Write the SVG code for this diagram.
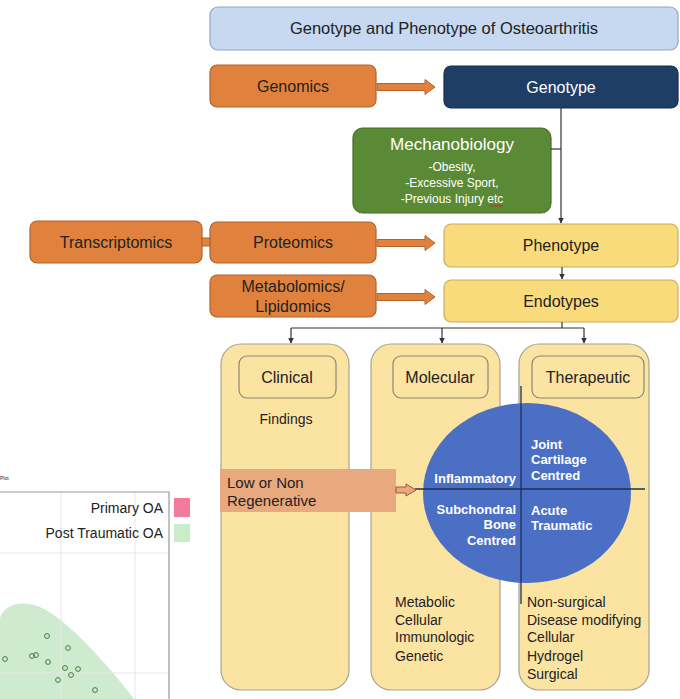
<svg xmlns="http://www.w3.org/2000/svg" width="680" height="699" viewBox="0 0 680 699">
  <defs>
    <style>
      text { font-family: "Liberation Sans", Arial, sans-serif; fill: #222; }
      .c { text-anchor: middle; }
      .r { text-anchor: end; }
      .box-title { fill: #c6d9f0; stroke: #8ea6c4; stroke-width: 1.2; }
      .box-omics { fill: #e0823e; stroke: #b2622a; stroke-width: 1.2; }
      .box-geno { fill: #1f3e66; stroke: #172f4e; stroke-width: 1.2; }
      .box-mech { fill: #5b8a36; stroke: #466d28; stroke-width: 1.2; }
      .box-pheno { fill: #f9db7b; stroke: #c8ae5c; stroke-width: 1.2; }
      .col { fill: #fbe3a2; stroke: #a8a294; stroke-width: 1.2; }
      .inner { fill: #fbe3a2; stroke: #8d8677; stroke-width: 1.2; }
      .line { fill: none; stroke: #333; stroke-width: 1.2; }
      .t16 { font-size: 16px; }
      .t14 { font-size: 14px; }
      .white { fill: #fff; }
      .bold { font-weight: bold; font-size: 13px; fill: #fff; }
      .dot { fill: none; stroke: #3f7d3f; stroke-width: 1; }
      .grid { stroke: #e6e6e6; stroke-width: 1; }
    </style>
    <marker id="tip" viewBox="0 0 6 6" refX="5.5" refY="3" markerWidth="5" markerHeight="5" orient="auto">
      <path d="M0,0 L6,3 L0,6 Z" fill="#333"/>
    </marker>
    <!-- block arrow, drawn from its left end at (0,0) -->
    <path id="block" d="M0,-3.5 H48 V-7.5 L58,0 L48,7.5 V3.5 H0 Z" fill="#e0823e" stroke="#b2622a" stroke-width="1"/>
  </defs>

  <!-- scatter plot panel at lower left -->
  <g id="plot">
    <text x="0" y="480" font-size="5">Plot</text>
    <path d="M0,618 C4,604 24,598 46,610 C70,624 104,660 134,699 L0,699 Z" fill="#cfebcf"/>
    <line class="grid" x1="61" y1="492" x2="61" y2="699"/>
    <line class="grid" x1="135" y1="492" x2="135" y2="699"/>
    <line class="grid" x1="0" y1="553" x2="169" y2="553"/>
    <line class="grid" x1="0" y1="673" x2="169" y2="673"/>
    <path d="M0,492 H169 V699" fill="none" stroke="#9a9a9a" stroke-width="1.2"/>
    <text class="r" x="163" y="513" font-size="14" fill="#333">Primary OA</text>
    <text class="r" x="163" y="538" font-size="14" fill="#333">Post Traumatic OA</text>
    <rect x="174" y="498" width="16" height="19" fill="#f27b9b"/>
    <rect x="174" y="524" width="16" height="18" fill="#c9ecc9"/>
    <circle class="dot" cx="47" cy="636" r="2.4"/>
    <circle class="dot" cx="68" cy="648" r="2.4"/>
    <circle class="dot" cx="32" cy="656" r="2.4"/>
    <circle class="dot" cx="36" cy="655" r="2.4"/>
    <circle class="dot" cx="48" cy="662" r="2.4"/>
    <circle class="dot" cx="5" cy="659" r="2.4"/>
    <circle class="dot" cx="65" cy="668" r="2.4"/>
    <circle class="dot" cx="71" cy="675" r="2.4"/>
    <circle class="dot" cx="78" cy="669" r="2.4"/>
    <circle class="dot" cx="58" cy="680" r="2.4"/>
    <circle class="dot" cx="95" cy="690" r="2.4"/>
  </g>

  <g id="title">
    <rect class="box-title" x="210" y="7" width="468" height="43" rx="8"/>
    <text class="c" x="444" y="34" font-size="16.5">Genotype and Phenotype of Osteoarthritis</text>
  </g>

  <g id="genomics">
    <rect class="box-omics" x="210" y="65" width="166" height="42" rx="7"/>
    <text class="c t16" x="293" y="92">Genomics</text>
  </g>

  <g id="genotype">
    <rect class="box-geno" x="444" y="66" width="234" height="42" rx="7"/>
    <text class="c t16 white" x="561" y="93">Genotype</text>
  </g>

  <g id="mechanobiology">
    <rect class="box-mech" x="353" y="128" width="198" height="85" rx="10"/>
    <text class="c white" x="452" y="150" font-size="17">Mechanobiology</text>
    <text class="c white" x="452" y="171" font-size="12">-Obesity,</text>
    <text class="c white" x="452" y="187" font-size="12">-Excessive Sport,</text>
    <text class="c white" x="452" y="203" font-size="12">-Previous Injury etc</text>
    <path d="M489,206 q1,-1.5 2,0 t2,0 t2,0 t2,0 t2,0 t2,0 t2,0" fill="none" stroke="#d02020" stroke-width="0.9"/>
  </g>

  <g id="transcriptomics">
    <rect class="box-omics" x="30" y="221" width="172" height="42" rx="7"/>
    <text class="c t16" x="116" y="248">Transcriptomics</text>
  </g>

  <g id="proteomics">
    <rect class="box-omics" x="210" y="222" width="166" height="41" rx="7"/>
    <text class="c t16" x="293" y="248">Proteomics</text>
  </g>

  <g id="phenotype">
    <rect class="box-pheno" x="444" y="224" width="234" height="43" rx="7"/>
    <text class="c t16" x="561" y="251">Phenotype</text>
  </g>

  <g id="metabolomics">
    <rect class="box-omics" x="210" y="275" width="166" height="42" rx="7"/>
    <text class="c t16" x="293" y="292">Metabolomics/</text>
    <text class="c t16" x="293" y="312">Lipidomics</text>
  </g>

  <g id="endotypes">
    <rect class="box-pheno" x="444" y="280" width="234" height="42" rx="7"/>
    <text class="c t16" x="561" y="307">Endotypes</text>
  </g>

  <g id="clinical">
    <rect class="col" x="221" y="344" width="128" height="346" rx="20"/>
    <rect class="inner" x="239" y="356" width="97" height="42" rx="8"/>
    <text class="c t16" x="287" y="383">Clinical</text>
    <text class="c t14" x="286" y="424">Findings</text>
  </g>

  <g id="molecular">
    <rect class="col" x="371" y="344" width="129" height="346" rx="20"/>
    <rect class="inner" x="393" y="356" width="95" height="42" rx="8"/>
    <text class="c t16" x="440" y="383">Molecular</text>
    <text class="t14" x="395" y="607">Metabolic</text>
    <text class="t14" x="395" y="625">Cellular</text>
    <text class="t14" x="395" y="642">Immunologic</text>
    <text class="t14" x="395" y="661">Genetic</text>
  </g>

  <g id="therapeutic">
    <rect class="col" x="519" y="344" width="130" height="346" rx="20"/>
    <rect class="inner" x="532" y="356" width="112" height="42" rx="8"/>
    <text class="c t16" x="588" y="383">Therapeutic</text>
    <text class="t14" x="527" y="607">Non-surgical</text>
    <text class="t14" x="527" y="625">Disease modifying</text>
    <text class="t14" x="527" y="642">Cellular</text>
    <text class="t14" x="527" y="661">Hydrogel</text>
    <text class="t14" x="527" y="679">Surgical</text>
  </g>

  <g id="endotype-map">
    <ellipse cx="527" cy="493" rx="104" ry="90" fill="#4a6fc4"/>
    <line x1="521" y1="386" x2="521" y2="604" stroke="#1f2f55" stroke-width="1.3"/>
    <line x1="415" y1="489" x2="645" y2="489" stroke="#1f2f55" stroke-width="1.3"/>
    <text class="bold r" x="516" y="483">Inflammatory</text>
    <text class="bold" x="531" y="449">Joint</text>
    <text class="bold" x="531" y="464">Cartilage</text>
    <text class="bold" x="531" y="480">Centred</text>
    <text class="bold r" x="516" y="514">Subchondral</text>
    <text class="bold r" x="516" y="529">Bone</text>
    <text class="bold r" x="516" y="545">Centred</text>
    <text class="bold" x="531" y="515">Acute</text>
    <text class="bold" x="531" y="530">Traumatic</text>
  </g>

  <g id="regenerative">
    <rect x="220" y="469" width="176" height="43" fill="#e9a97e"/>
    <text x="227" y="488" font-size="15">Low or Non</text>
    <text x="227" y="506" font-size="15">Regenerative</text>
  </g>

  <g id="connectors">
    <use href="#block" x="377" y="87"/>
    <use href="#block" x="377" y="243"/>
    <use href="#block" x="377" y="297"/>
    <rect x="202" y="238" width="8" height="8" fill="#e0823e" stroke="#b2622a" stroke-width="1"/>
    <path d="M396,487 H406 V484 L416,490 L406,496 V493 H396 Z" fill="#e9a97e" stroke="#9a5a34" stroke-width="1"/>
    <line class="line" x1="561" y1="108" x2="561" y2="223" marker-end="url(#tip)"/>
    <line class="line" x1="551" y1="149" x2="561" y2="149"/>
    <line class="line" x1="562" y1="267" x2="562" y2="279" marker-end="url(#tip)"/>
    <path class="line" d="M562,322 V328 M291,328 H584"/>
    <line class="line" x1="291" y1="328" x2="291" y2="343" marker-end="url(#tip)"/>
    <line class="line" x1="442" y1="328" x2="442" y2="343" marker-end="url(#tip)"/>
    <line class="line" x1="584" y1="328" x2="584" y2="343" marker-end="url(#tip)"/>
  </g>
</svg>
